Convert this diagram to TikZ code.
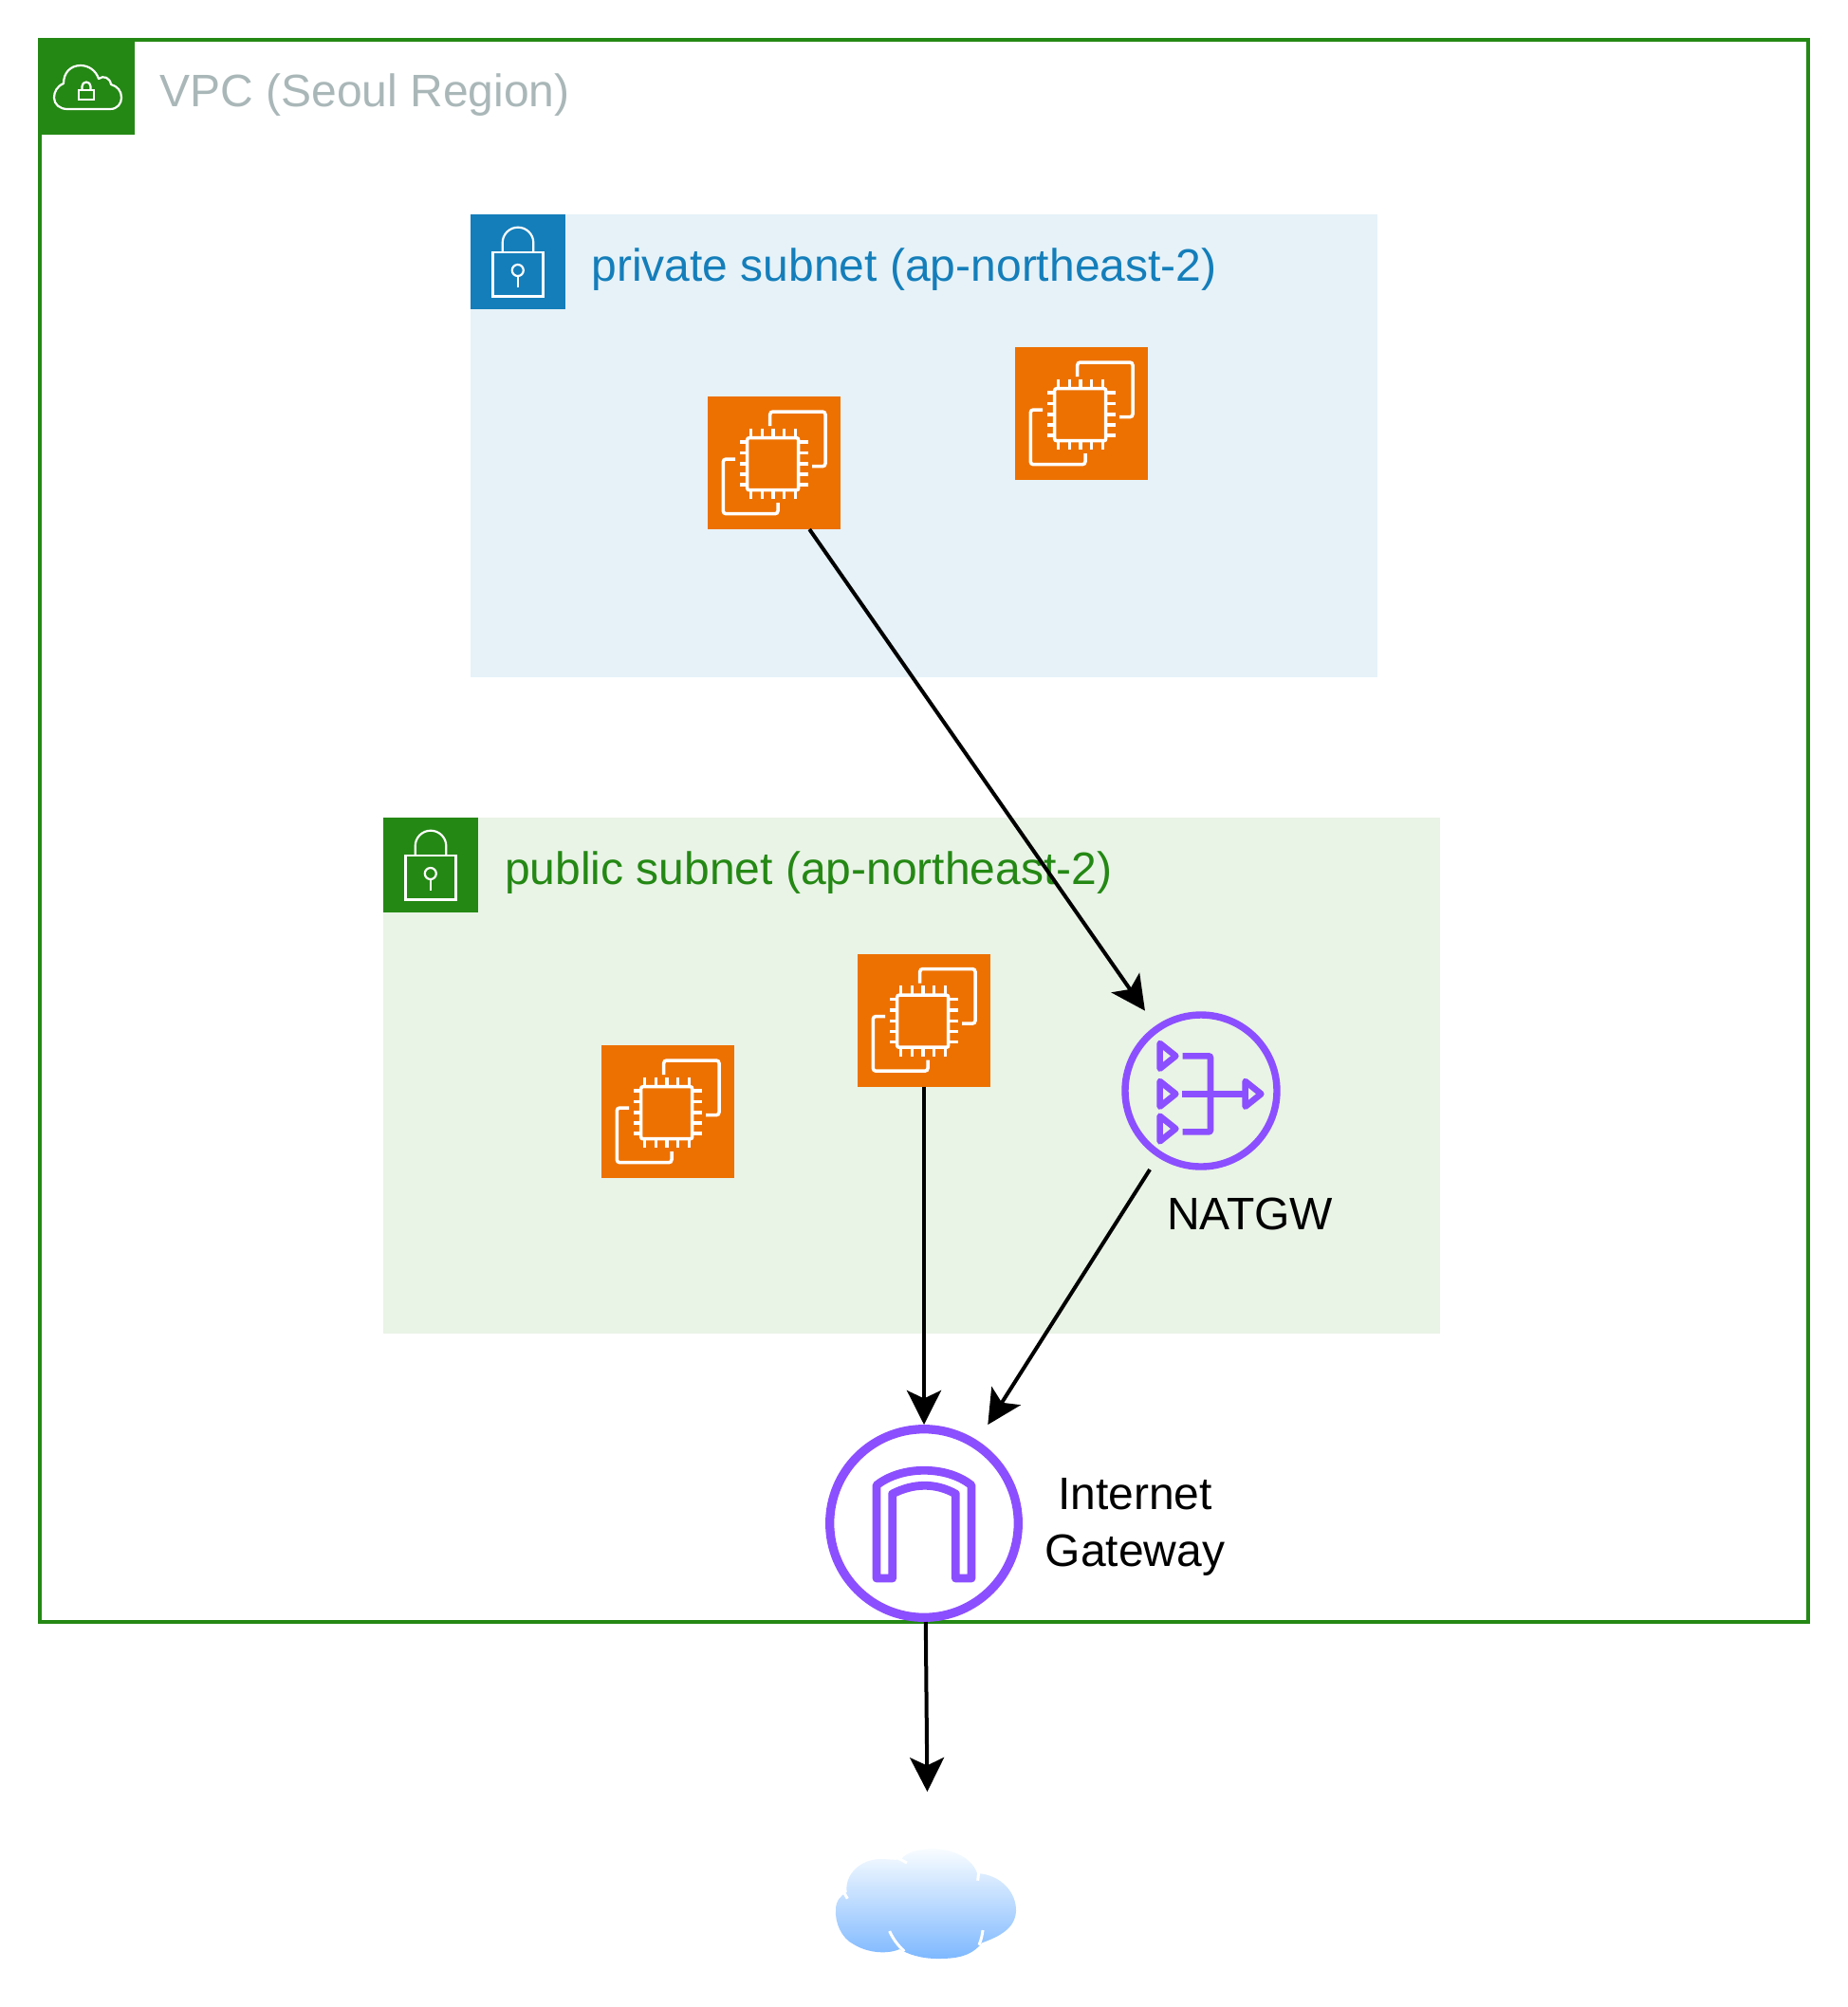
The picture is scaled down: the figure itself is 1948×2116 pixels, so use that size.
\documentclass[tikz,border=0pt]{standalone}
\usepackage{fontspec}
\setmainfont{Liberation Sans}
\usetikzlibrary{arrows.meta,calc}
\definecolor{awsgreen}{HTML}{248814}
\definecolor{awsblue}{HTML}{147EBA}
\definecolor{awsorange}{HTML}{ED7100}
\definecolor{awspurple}{HTML}{8C4FFF}
\definecolor{vpcgray}{HTML}{AAB7B8}
\definecolor{privbg}{HTML}{E6F2F8}
\definecolor{pubbg}{HTML}{E9F3E6}
\definecolor{cloudtop}{HTML}{F8FCFF}
\definecolor{cloudbot}{HTML}{7EB8FF}
\tikzset{
  box/.style={rectangle,inner sep=0pt,outer sep=0pt,anchor=north west},
  badge/.style={box,minimum size=50pt},
  ecbox/.style={box,fill=awsorange,minimum size=70pt},
  lbl/.style={inner sep=0pt,outer sep=0pt,anchor=base west,font=\fontsize{24}{30}\selectfont},
  conn/.style={black,line width=2pt,-{Stealth[length=18pt,width=18pt,inset=4.2pt]}},
  zoomed/.style={x=0.16667pt,y=-0.16667pt},
  ecicon/.pic={
    \draw[white,line width=1.75pt,line cap=butt,rounded corners=1pt]
      (41.7,43.7) rectangle (95.7,98.7);
    \foreach \p in {45.7,57.3,69,80.7,92.3}{
      \draw[white,line width=1.75pt] (\p,33.7) -- (\p,43.7);
      \draw[white,line width=1.75pt] (\p,98.7) -- (\p,108);
    }
    \foreach \p in {48,59.7,71,82,93}{
      \draw[white,line width=1.75pt] (34,\p) -- (41.7,\p);
      \draw[white,line width=1.75pt] (95.7,\p) -- (105.7,\p);
    }
    \draw[white,line width=1.75pt,rounded corners=1.5pt]
      (65.7,31) -- (65.7,16) -- (124,16) -- (124,73.7) -- (110,73.7);
    \draw[white,line width=1.75pt,rounded corners=1.5pt]
      (29,66) -- (16.3,66) -- (16.3,123.7) -- (74,123.7) -- (74,112);
  },
  lockicon/.pic={
    \draw[white,line width=1.1pt] (23.5,40) rectangle (76.5,86.5);
    \draw[white,line width=1.1pt] (33.7,40) -- (33.7,30) arc[start angle=180,end angle=360,radius=16.3] -- (66.3,40);
    \draw[white,line width=1.1pt] (49.8,59) circle[radius=6];
    \draw[white,line width=1.1pt] (49.8,65) -- (49.8,77);
  },
  cloudlock/.pic={
    \draw[white,line width=1.1pt,line join=round]
      (31,75) -- (76,75) .. controls (84,75) and (88,69) .. (88,63)
      .. controls (88,56) and (84,51) .. (77,49)
      .. controls (76,42) and (69,39) .. (64,43)
      .. controls (61,34) and (53,29) .. (45,29)
      .. controls (34,29) and (27,37) .. (27,48)
      .. controls (20,51) and (17,57) .. (17,63)
      .. controls (17,70) and (23,75) .. (31,75) -- cycle;
    \draw[white,line width=1.1pt] (43,55) rectangle (59,65);
    \draw[white,line width=1.1pt] (46.5,55) -- (46.5,51) arc[start angle=180,end angle=360,radius=4.5] -- (55.5,55);
  }
}
\begin{document}
\begin{tikzpicture}[x=0.5pt,y=-0.5pt]
\useasboundingbox (0,0) rectangle (1948,2116);
% containers
\node[rectangle,draw=awsgreen,line width=2pt,inner sep=0pt,outer sep=0pt,minimum width=932pt,minimum height=834pt] (vpc) at (974,876) {};
\node[badge,fill=awsgreen,minimum width=51pt,minimum height=51pt] (vpcb) at (40,40) {};
\pic at (vpcb.north west) {cloudlock};
\node[lbl,text=vpcgray] (vpct) at (168.5,112) {VPC (Seoul Region)};

\node[box,fill=privbg,minimum width=478pt,minimum height=244pt] (priv) at (496,226) {};
\node[badge,fill=awsblue] (privb) at (496,226) {};
\pic at (privb.north west) {lockicon};
\node[lbl,text=awsblue] (privt) at (623.5,296) {private subnet (ap-northeast-2)};

\node[box,fill=pubbg,minimum width=557pt,minimum height=271.85pt] (pub) at (404,862) {};
\node[badge,fill=awsgreen] (pubb) at (404,862) {};
\pic at (pubb.north west) {lockicon};
\node[lbl,text=awsgreen] (pubt) at (532,932) {public subnet (ap-northeast-2)};

% instances
\node[ecbox] (e1) at (746,418) {};
\pic at (e1.north west) {ecicon};
\node[ecbox] (e2) at (1070,366) {};
\pic at (e2.north west) {ecicon};
\node[ecbox] (e3) at (904,1005.5) {};
\pic at (e3.north west) {ecicon};
\node[ecbox] (e4) at (634,1102) {};
\pic at (e4.north west) {ecicon};

% NAT gateway
\node[circle,inner sep=0pt,outer sep=0pt,minimum size=99pt] (nat) at (1266,1150) {};
\draw[awspurple,line width=3.7pt] (nat.center) circle[radius=80];
\begin{scope}[shift={(1160,1050)},zoomed]
  \foreach \c in {190,310,420}{
    \draw[awspurple,line width=3.3pt,line join=round] (188,\c-40) -- (238,\c) -- (188,\c+40) -- cycle;
  }
  \draw[awspurple,line width=3.3pt,line join=round] (458,270) -- (508,310) -- (458,350) -- cycle;
  \draw[awspurple,line width=3.3pt,rounded corners=1pt] (260,190) -- (348,190) -- (348,430) -- (260,430);
  \draw[awspurple,line width=3.3pt] (258,310) -- (458,310);
\end{scope}
\node[lbl] (natt) at (1230,1296) {NATGW};

% Internet gateway
\node[circle,inner sep=0pt,outer sep=0pt,minimum size=104pt] (igw) at (974,1606) {};
\draw[awspurple,line width=4.65pt] (igw.center) circle[radius=99.3];
\begin{scope}[shift={(850,1480)},zoomed]
  \draw[awspurple,line width=4.4pt,line join=round]
    (222,552) -- (222,258) .. controls (300,195) and (445,195) .. (522,258)
    -- (522,552) -- (472,552) -- (472,285)
    .. controls (410,250) and (340,250) .. (272,285)
    -- (272,552) -- cycle;
\end{scope}
\node[inner sep=0pt,outer sep=0pt,align=center,anchor=base,font=\fontsize{24}{30}\selectfont] (igwt) at (1196.6,1651.7) {Internet\\Gateway};

% cloud
\node[rectangle,inner sep=0pt,outer sep=0pt,minimum width=98pt,minimum height=58pt,anchor=north] (net) at (978,1949) {};
\begin{scope}[shift={(860,1860)},zoomed]
  \path[top color=cloudtop,bottom color=cloudbot]
    (270,300) .. controls (290,275) and (330,268) .. (370,268)
    .. controls (440,268) and (495,300) .. (510,345)
    .. controls (590,350) and (635,410) .. (633,465)
    .. controls (630,520) and (580,545) .. (525,565)
    .. controls (490,610) and (440,615) .. (385,615)
    .. controls (330,615) and (290,600) .. (265,585)
    .. controls (230,600) and (170,600) .. (120,570)
    .. controls (80,550) and (60,500) .. (63,460)
    .. controls (63,430) and (80,415) .. (98,405)
    .. controls (90,350) and (140,300) .. (205,300)
    .. controls (230,300) and (255,305) .. (270,300) -- cycle;
  \draw[white,line width=1.5pt] (288,312) -- (262,298);
  \draw[white,line width=1.5pt] (515,342) -- (512,368);
  \draw[white,line width=1.5pt] (90,408) -- (100,425);
  \draw[white,line width=1.5pt] (233,528) .. controls (243,550) and (258,572) .. (280,592);
  \draw[white,line width=1.5pt] (528,525) .. controls (526,540) and (524,552) .. (516,572);
\end{scope}

% connectors
\draw[conn,shorten >=2pt] (e1.-62.8) -- (nat.125.1);
\draw[conn] (e3.south) -- (igw.north);
\draw[conn,shorten >=9.9pt] (nat.-123.2) -- (igw.57.4);
\draw[conn,shorten >=30pt] (igw.-89.2) -- (net.north);
\end{tikzpicture}
\end{document}
